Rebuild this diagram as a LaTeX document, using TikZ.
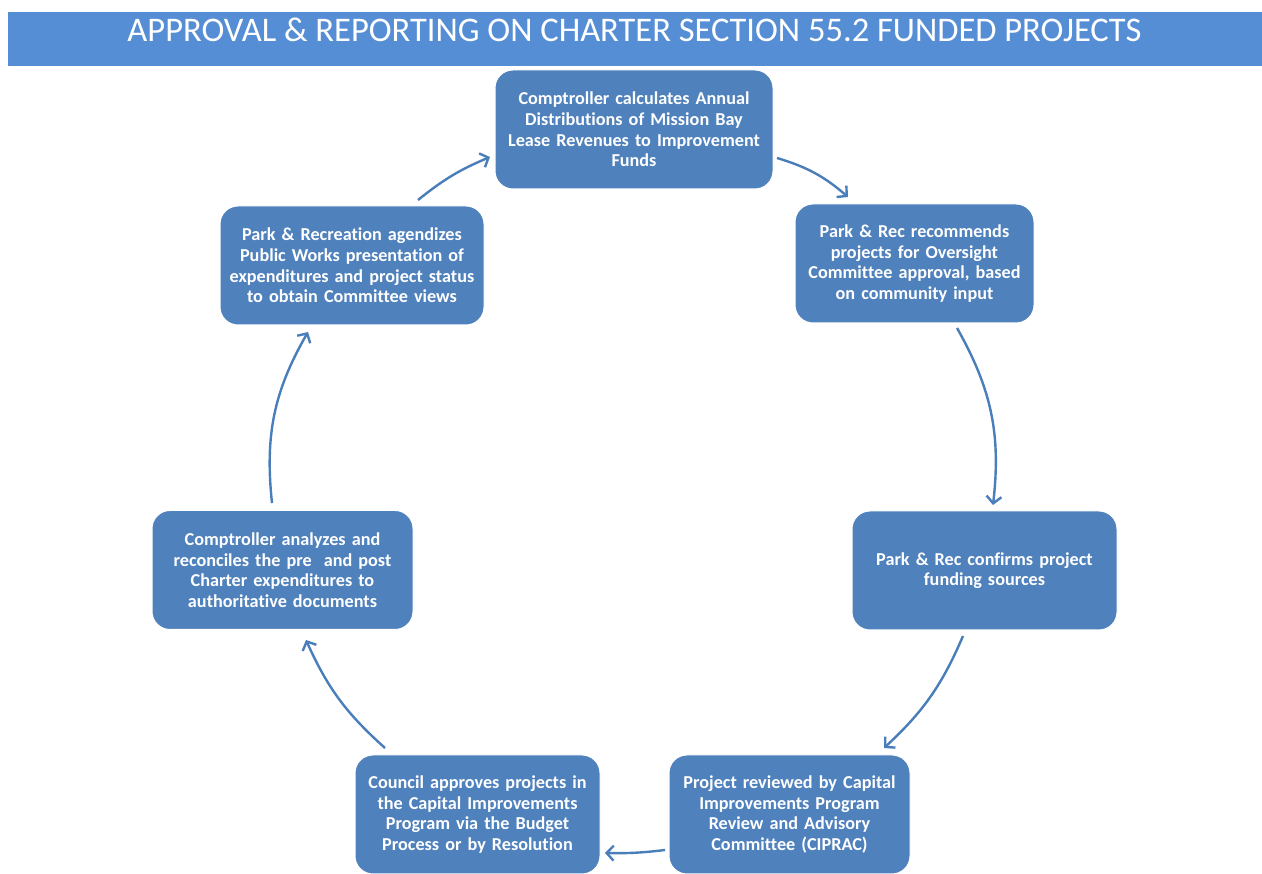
\documentclass[tikz,border=0pt]{standalone}
\usepackage{fontspec}
\setmainfont[Ligatures={NoCommon}]{Carlito}
\usetikzlibrary{arrows.meta}
\definecolor{barblue}{HTML}{558ED5}
\definecolor{boxblue}{HTML}{4F81BD}
\definecolor{arrblue}{HTML}{4A7EBB}
\tikzset{
  stepbox/.style={draw=white, line width=1pt, fill=boxblue, rounded corners=18pt,
    text=white, font=\bfseries\fontsize{18.2}{20.6}\selectfont, align=center,
    inner sep=0pt, minimum height=119pt},
  flow/.style={draw=arrblue, line width=2.4pt,
    -{Straight Barb[length=7pt,width=15pt,line width=2.4pt]}}
}
\begin{document}
\begin{tikzpicture}[x=1pt,y=1pt]
\useasboundingbox (0,0) rectangle (1262,874);
\fill[white] (0,0) rectangle (1262,874);
\node[fill=barblue, minimum width=1254pt, minimum height=54pt, inner sep=0pt] (bar) at (635,835) {};
\node[text=white, font=\fontsize{34.5}{38}\selectfont, inner sep=0pt] (title) at (634.5,844) {APPROVAL \& REPORTING ON CHARTER SECTION 55.2 FUNDED PROJECTS};

\node[stepbox, minimum width=278pt, text width=270pt] (b1) at (634,744.5) {Comptroller calculates Annual\\Distributions of Mission Bay\\Lease Revenues to Improvement\\Funds};
\node[stepbox, minimum width=239pt, text width=232pt] (b2) at (914.5,610.5) {Park \& Rec recommends\\projects for Oversight\\Committee approval, based\\on community input};
\node[stepbox, minimum width=265pt, text width=258pt] (b3) at (984.5,303.5) {Park \& Rec confirms project\\funding sources};
\node[stepbox, minimum width=241pt, text width=234pt] (b4) at (789.5,59.5) {Project reviewed by Capital\\Improvements Program\\Review and Advisory\\Committee (CIPRAC)};
\node[stepbox, minimum width=245pt, text width=238pt] (b5) at (477.5,59.5) {Council approves projects in\\the Capital Improvements\\Program via the Budget\\Process or by Resolution};
\node[stepbox, minimum width=261pt, text width=254pt] (b6) at (282.5,304) {Comptroller analyzes and\\reconciles the pre\ \ and post\\Charter expenditures to\\authoritative documents};
\node[stepbox, minimum width=264pt, text width=257pt] (b7) at (352,608.5) {Park \& Recreation agendizes\\Public Works presentation of\\expenditures and project status\\to obtain Committee views};

\coordinate (s1) at (777,716); \coordinate (e1) at (848,677);
\coordinate (s2) at (957,546); \coordinate (e2) at (993,369);
\coordinate (s3) at (963,238); \coordinate (e3) at (884,126);
\coordinate (s4) at (665,24);  \coordinate (e4) at (605,21);
\coordinate (s5) at (385,126); \coordinate (e5) at (306,234);
\coordinate (s6) at (272,371); \coordinate (e6) at (308,542);
\coordinate (s7) at (418,674); \coordinate (e7) at (490,717);

\draw[flow] (s1) to[bend left=12] (e1);
\draw[flow] (s2) to[bend left=18] (e2);
\draw[flow] (s3) to[bend left=12] (e3);
\draw[flow] (s4) to[bend left=4] (e4);
\draw[flow] (s5) to[bend left=12] (e5);
\draw[flow] (s6) to[bend left=18] (e6);
\draw[flow] (s7) to[bend left=8] (e7);
\end{tikzpicture}
\end{document}
